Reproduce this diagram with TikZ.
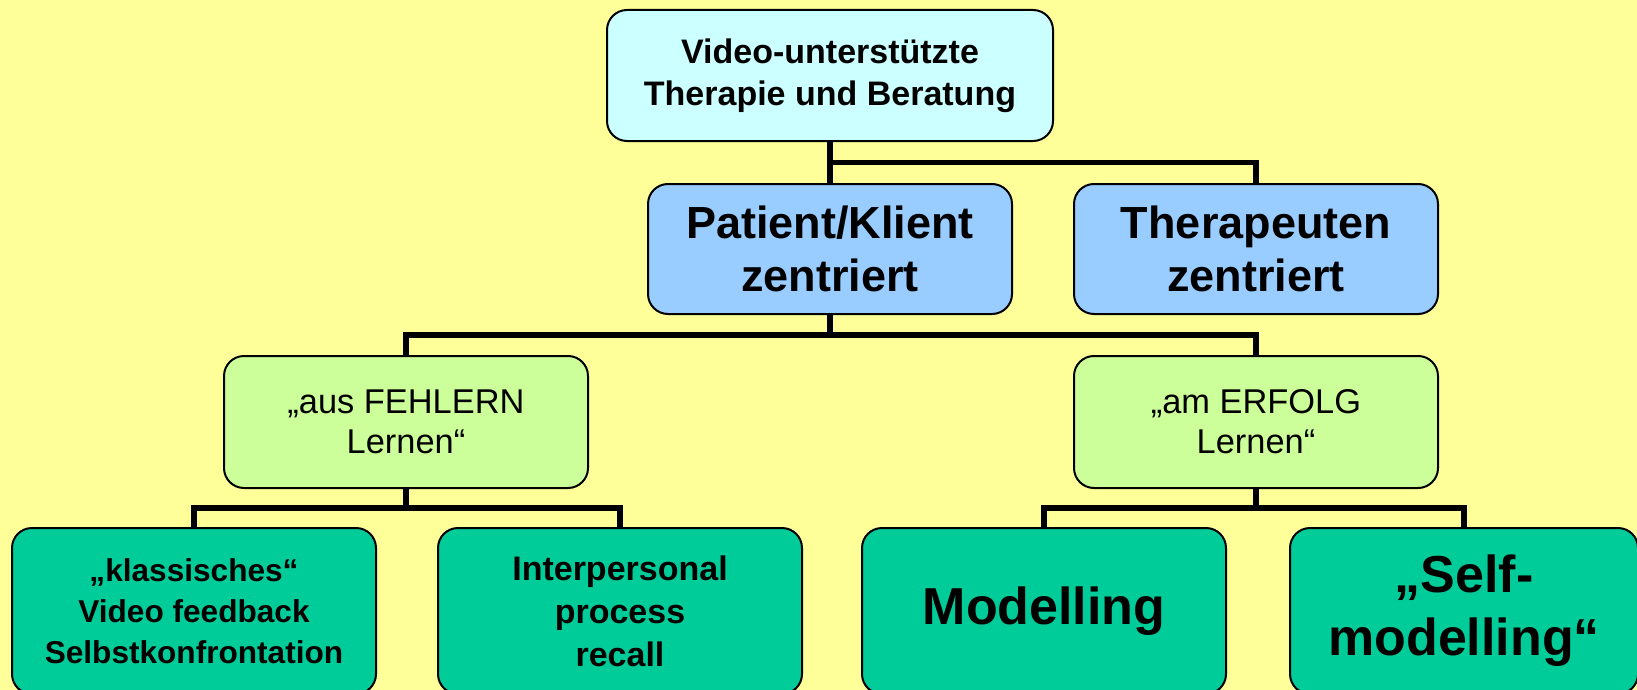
\documentclass[tikz,border=0pt]{standalone}
\usepackage{fontspec}
\setmainfont{Liberation Sans}
\usepackage{tikz}
\usetikzlibrary{positioning}
\definecolor{bgyellow}{HTML}{FFFF99}
\definecolor{topcyan}{HTML}{CCFFFF}
\definecolor{midblue}{HTML}{99CCFF}
\definecolor{lightgreen}{HTML}{CCFF99}
\definecolor{darkgreen}{HTML}{00CC99}

\begin{document}
\begin{tikzpicture}[line width=1pt,box/.style={rectangle,rounded corners=10pt,draw,align=center,inner sep=2pt},top node/.style={box,fill=topcyan,minimum width=223pt,minimum height=65.5pt,font=\bfseries\fontsize{17}{21}\selectfont},main node/.style={box,fill=midblue,minimum width=182pt,minimum height=65pt,font=\bfseries\fontsize{22.5}{26.5}\selectfont},sub node/.style={box,fill=lightgreen,minimum width=182pt,minimum height=66pt,font=\fontsize{17.2}{20}\selectfont},leaf node/.style={box,fill=darkgreen,minimum width=182pt,minimum height=83pt,font=\bfseries\fontsize{15.8}{20.5}\selectfont},link/.style={line width=2.8pt}]

        \fill[bgyellow] (0,0) rectangle (818.5pt,-345pt);
        \useasboundingbox (0,0) rectangle (818.5pt,-345pt);

        \node[top node] (video) at (415pt,-37.75pt) {Video-unterstützte\\Therapie und Beratung};
        \node[main node] (patient) [below=20.5pt of video] {Patient/Klient\\zentriert};
        \node[main node] (therapeut) [right=30pt of patient] {Therapeuten\\zentriert};
        \node[sub node] (erfolg) [below=20pt of therapeut] {„am ERFOLG\\Lernen“};
        \node[sub node] (fehler) [left=242pt of erfolg] {„aus FEHLERN\\Lernen“};
        \node[leaf node] (klassisch) [below=19pt of fehler,xshift=-106pt] {„klassisches“\\Video feedback\\Selbstkonfrontation};
        \node[leaf node,font=\bfseries\fontsize{17}{21.5}\selectfont] (recall) [right=30pt of klassisch] {Interpersonal\\process\\recall};
        \node[leaf node,font=\bfseries\fontsize{26}{31.5}\selectfont] (modelling) [below=19pt of erfolg,xshift=-106pt] {Modelling};
        \node[leaf node,minimum width=174pt,font=\bfseries\fontsize{26}{31.5}\selectfont] (selfmod) [right=31pt of modelling] {„Self-\\modelling“};

        \draw[link] (video.south) -- (patient.north);
        \draw[link] (video.south) -- ++(0,-10.25pt) -| (therapeut.north);
        \draw[link] (patient.south) -- ++(0,-10pt) -| (fehler.north);
        \draw[link] (patient.south) -- ++(0,-10pt) -| (erfolg.north);
        \draw[link] (fehler.south) -- ++(0,-9.5pt) -| (klassisch.north);
        \draw[link] (fehler.south) -- ++(0,-9.5pt) -| (recall.north);
        \draw[link] (erfolg.south) -- ++(0,-9.5pt) -| (modelling.north);
        \draw[link] (erfolg.south) -- ++(0,-9.5pt) -| (selfmod.north);
    \end{tikzpicture}
\end{document}
